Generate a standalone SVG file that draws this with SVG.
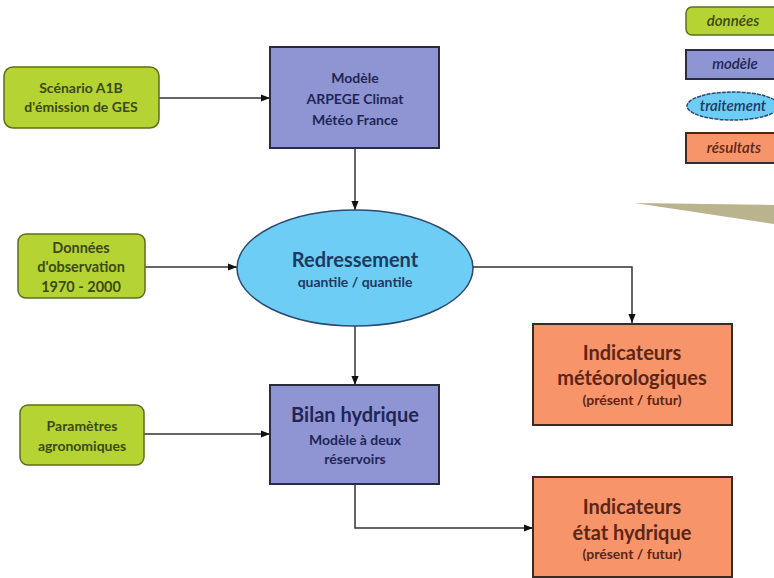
<svg xmlns="http://www.w3.org/2000/svg" width="774" height="578" viewBox="0 0 774 578">
<defs>
<style>
.t{font-family:Lato,"Open Sans","Liberation Sans",sans-serif;font-weight:bold;text-anchor:middle}
.g{fill:#b5d333;stroke:#5f6e1e;stroke-width:1.5}
.gt{fill:#3c4a12}
.b{fill:#8f95d2;stroke:#2a2b3c;stroke-width:2}
.bt{fill:#1f2657}
.e{fill:#6ecdf5;stroke:#2c4a72;stroke-width:1.5}
.et{fill:#1d3a60}
.o{fill:#f7946a;stroke:#3a2a22;stroke-width:2}
.ot{fill:#5c2616}
.c{fill:none;stroke:#333;stroke-width:1.5}
.li{font-style:italic;font-weight:600;font-size:15px}
</style>
<marker id="ah" viewBox="0 0 10 10" refX="10" refY="5" markerWidth="9" markerHeight="9" markerUnits="userSpaceOnUse" orient="auto">
<path d="M0,1 L10,5 L0,9 z" fill="#111"/>
</marker>
</defs>
<rect width="774" height="578" fill="#fff"/>

<g id="connectors">
<line class="c" x1="159" y1="98" x2="270" y2="98" marker-end="url(#ah)"/>
<line class="c" x1="355" y1="148" x2="355" y2="210" marker-end="url(#ah)"/>
<line class="c" x1="145" y1="267" x2="237" y2="267" marker-end="url(#ah)"/>
<path class="c" d="M473,267 H632 V323" marker-end="url(#ah)"/>
<line class="c" x1="355" y1="326" x2="355" y2="385" marker-end="url(#ah)"/>
<line class="c" x1="144" y1="434" x2="270" y2="434" marker-end="url(#ah)"/>
<path class="c" d="M355,484 V528 H533" marker-end="url(#ah)"/>
</g>

<g id="scenario">
<rect class="g" x="4" y="67" width="155" height="61" rx="9"/>
<text class="t gt" font-size="14" x="81" y="93">Scénario A1B</text>
<text class="t gt" font-size="14" x="81" y="112">d'émission de GES</text>
</g>

<g id="modele">
<rect class="b" x="270" y="47" width="169" height="101"/>
<text class="t bt" font-size="14" x="355" y="83">Modèle</text>
<text class="t bt" font-size="14" x="355" y="104">ARPEGE Climat</text>
<text class="t bt" font-size="14" x="355" y="125">Météo France</text>
</g>

<g id="donnees">
<rect class="g" x="18" y="234" width="127" height="64" rx="8"/>
<text class="t gt" font-size="14.5" x="81" y="253">Données</text>
<text class="t gt" font-size="14.5" x="81" y="272">d'observation</text>
<text class="t gt" font-size="14.5" x="81" y="292">1970 - 2000</text>
</g>

<g id="redressement">
<ellipse class="e" cx="355" cy="268" rx="118" ry="58"/>
<text class="t et" font-size="20" x="355" y="267">Redressement</text>
<text class="t et" font-size="14" x="355" y="287">quantile / quantile</text>
</g>

<g id="indic-meteo">
<rect class="o" x="533" y="324" width="199" height="101"/>
<text class="t ot" font-size="20" x="632" y="360">Indicateurs</text>
<text class="t ot" font-size="20" x="632" y="385">météorologiques</text>
<text class="t ot" font-size="14" x="632" y="405">(présent / futur)</text>
</g>

<g id="parametres">
<rect class="g" x="20" y="405" width="124" height="60" rx="8"/>
<text class="t gt" font-size="14" x="82" y="431">Paramètres</text>
<text class="t gt" font-size="14" x="82" y="451">agronomiques</text>
</g>

<g id="bilan">
<rect class="b" x="270" y="385" width="169" height="99"/>
<text class="t bt" font-size="20" x="355" y="422">Bilan hydrique</text>
<text class="t bt" font-size="14" x="355" y="445">Modèle à deux</text>
<text class="t bt" font-size="14" x="355" y="464">réservoirs</text>
</g>

<g id="indic-etat">
<rect class="o" x="533" y="477" width="199" height="100"/>
<text class="t ot" font-size="20" x="632" y="514">Indicateurs</text>
<text class="t ot" font-size="20" x="632" y="540">état hydrique</text>
<text class="t ot" font-size="14" x="632" y="559">(présent / futur)</text>
</g>

<g id="legend">
<rect class="g" x="686" y="7" width="100" height="28" rx="6"/>
<text class="t gt li" x="733" y="26">données</text>
<rect class="b" x="686" y="50" width="100" height="29"/>
<text class="t bt li" x="735" y="69">modèle</text>
<ellipse class="e" cx="733" cy="106" rx="46" ry="14" stroke-dasharray="4 1"/>
<text class="t et li" x="733" y="111">traitement</text>
<rect class="o" x="686" y="133" width="100" height="30"/>
<text class="t ot li" x="734" y="153">résultats</text>
</g>

<polygon points="635,203 774,205 774,224" fill="#b9b38e"/>
</svg>
